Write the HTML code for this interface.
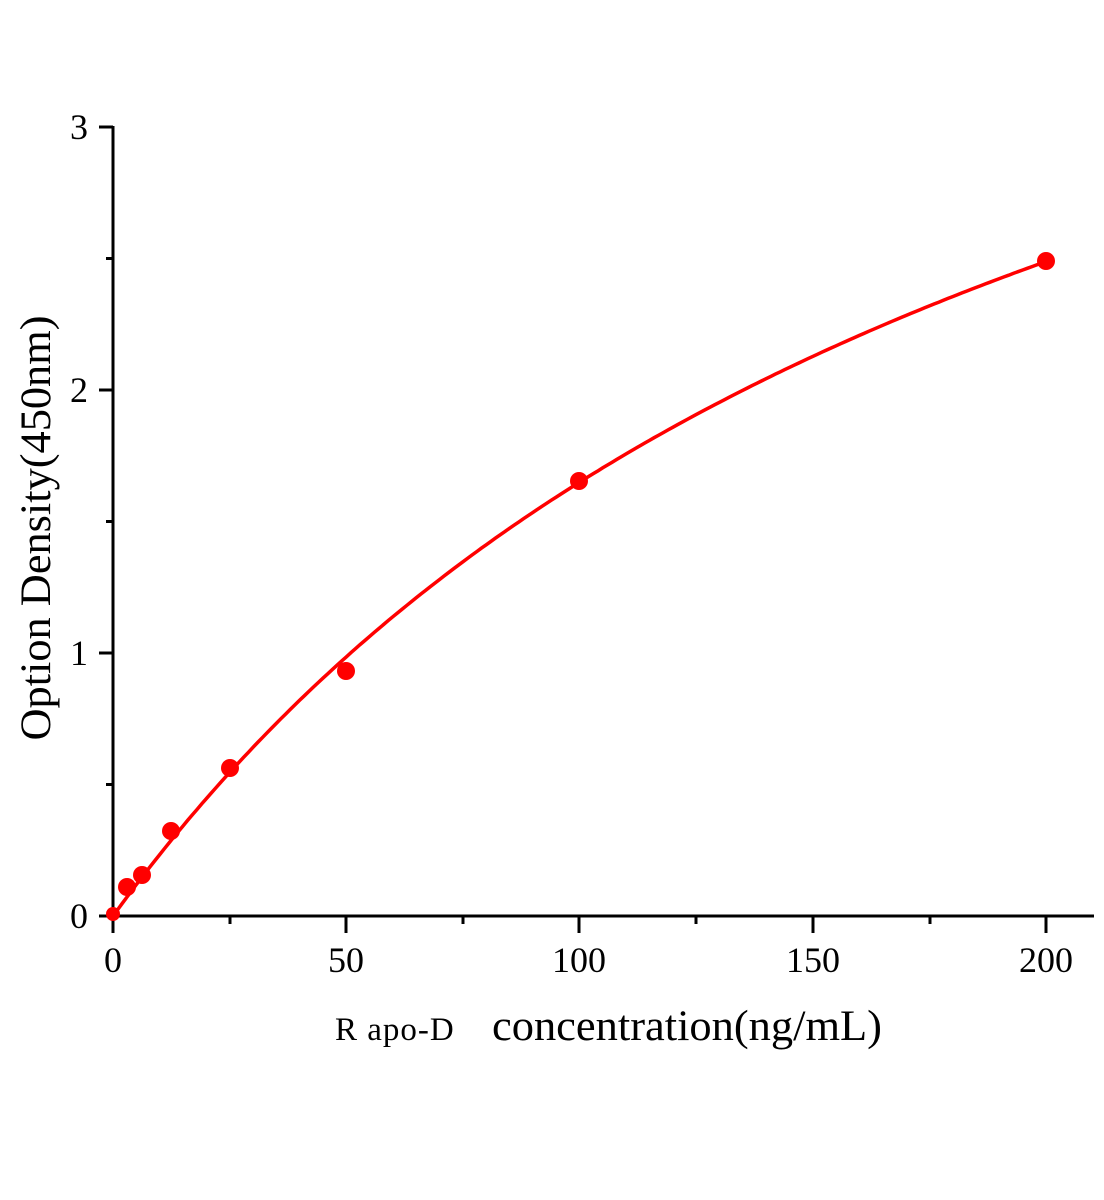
<!DOCTYPE html>
<html><head><style>body{margin:0;background:#fff}svg{display:block}</style></head><body>
<svg width="1104" height="1200" xmlns="http://www.w3.org/2000/svg" font-family="Liberation Serif, serif">
<g stroke="#000" stroke-width="3" fill="none">
<line x1="113" y1="126" x2="113" y2="933"/>
<line x1="99" y1="916" x2="1094" y2="916"/>
<line x1="99" y1="653" x2="113" y2="653"/>
<line x1="99" y1="390" x2="113" y2="390"/>
<line x1="99" y1="127" x2="113" y2="127"/>
<line x1="106" y1="784.5" x2="113" y2="784.5"/>
<line x1="106" y1="521.5" x2="113" y2="521.5"/>
<line x1="106" y1="258.5" x2="113" y2="258.5"/>
<line x1="346" y1="916" x2="346" y2="933"/>
<line x1="579" y1="916" x2="579" y2="933"/>
<line x1="813" y1="916" x2="813" y2="933"/>
<line x1="1046" y1="916" x2="1046" y2="933"/>
<line x1="230" y1="916" x2="230" y2="924"/>
<line x1="463" y1="916" x2="463" y2="924"/>
<line x1="696" y1="916" x2="696" y2="924"/>
<line x1="930" y1="916" x2="930" y2="924"/>
</g>
<g font-size="36" text-anchor="end">
<text x="88" y="928">0</text><text x="88" y="665">1</text><text x="88" y="402">2</text><text x="88" y="139">3</text>
</g>
<g font-size="36" text-anchor="middle">
<text x="113" y="972">0</text><text x="346" y="972">50</text><text x="579" y="972">100</text><text x="813" y="972">150</text><text x="1046" y="972">200</text>
</g>
<text x="335" y="1040" font-size="33" letter-spacing="1">R apo-D</text>
<text x="492" y="1040" font-size="43" textLength="390" lengthAdjust="spacingAndGlyphs">concentration(ng/mL)</text>
<text transform="translate(50,528) rotate(-90)" font-size="43" text-anchor="middle" textLength="425" lengthAdjust="spacingAndGlyphs">Option Density(450nm)</text>
<path id="c" stroke="#f00" stroke-width="3.5" fill="none"/>
<g fill="#f00">
<circle cx="113" cy="914" r="7"/>
<circle cx="127" cy="887" r="9"/>
<circle cx="142" cy="875" r="9"/>
<circle cx="171" cy="831" r="9"/>
<circle cx="230" cy="768" r="9"/>
<circle cx="346" cy="671" r="9"/>
<circle cx="579" cy="481" r="9"/>
<circle cx="1046" cy="261" r="9"/>
</g>
<script>
var d="";for(var i=0;i<=200;i+=1){var y=5.07*i/(207+i);d+=(i?"L":"M")+(113+i*4.665).toFixed(1)+","+(916-y*262.67).toFixed(1);}
document.getElementById("c").setAttribute("d",d);
</script>
</svg>
</body></html>
